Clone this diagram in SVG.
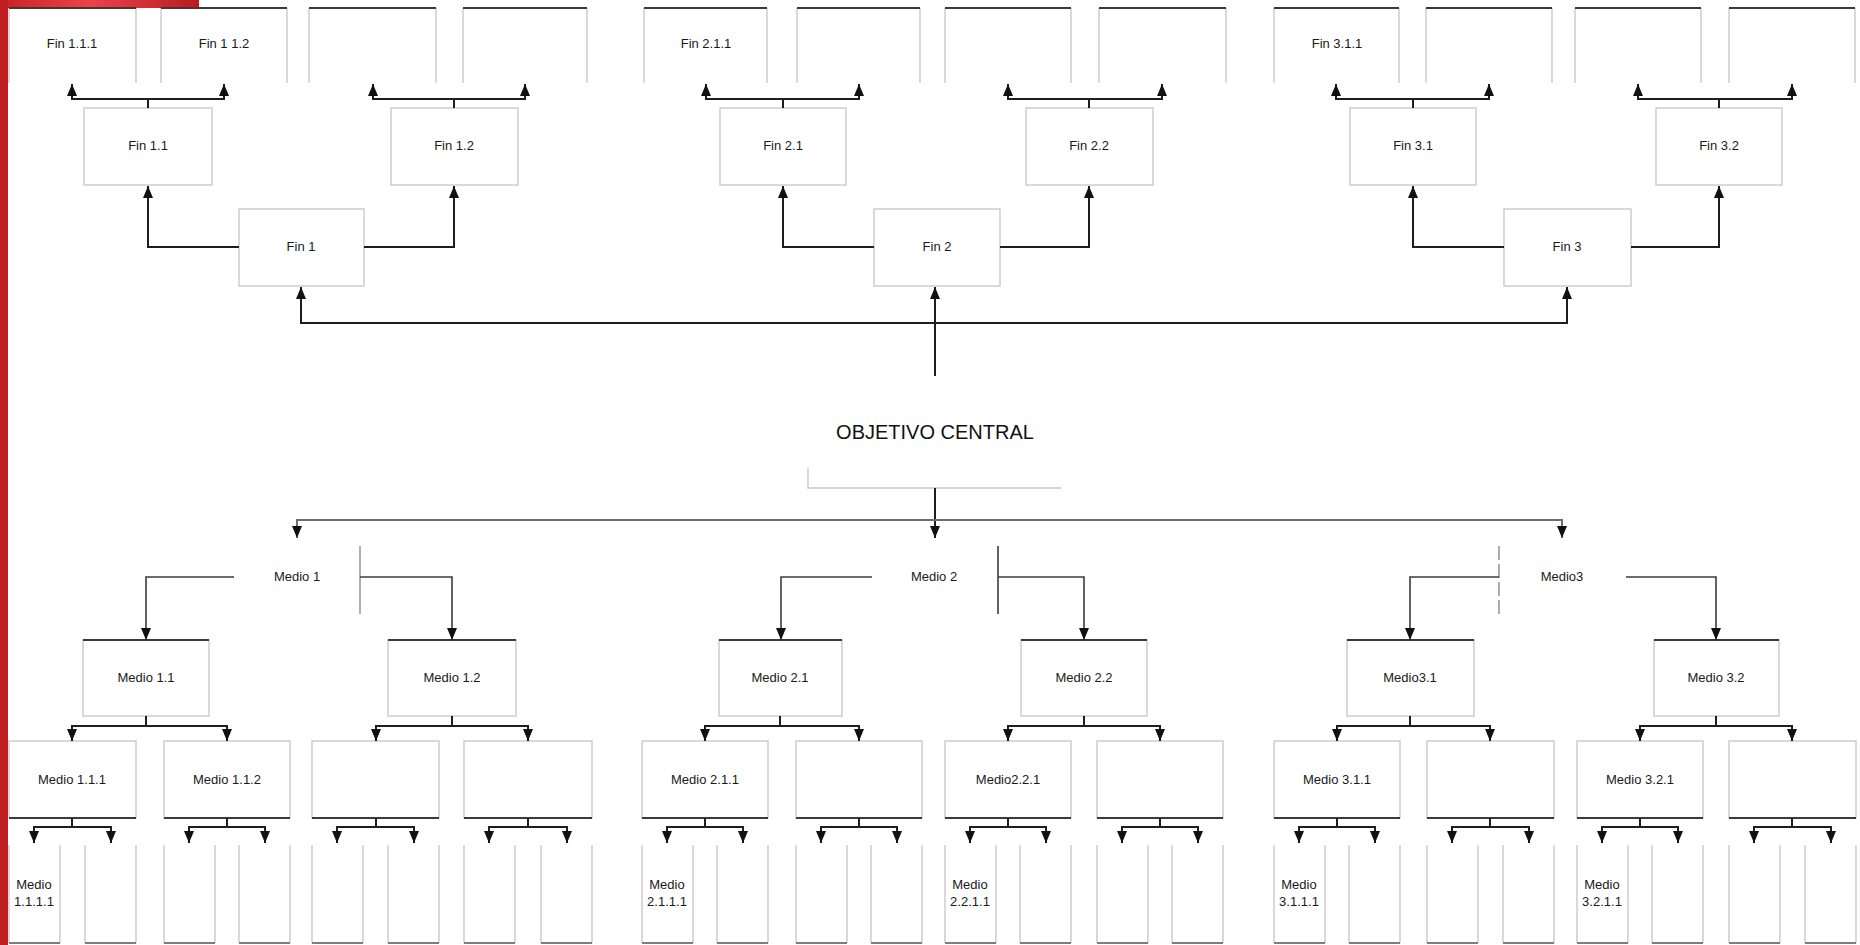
<svg xmlns="http://www.w3.org/2000/svg" width="1860" height="945" viewBox="0 0 1860 945">
<defs>
<style>
.box{fill:none;stroke:#c6c6c6;stroke-width:1.3}
.dk{fill:none;stroke:#3a3a3a;stroke-width:2}
.t{font-family:"Liberation Sans",Arial,sans-serif;font-size:13px;text-anchor:middle;fill:#1a1a1a}
.big{font-family:"Liberation Sans",Arial,sans-serif;font-size:20px;text-anchor:middle;fill:#111}
.c{fill:none;stroke:#1e1e1e;stroke-width:2}
.cg{fill:none;stroke:#6e6e6e;stroke-width:2}
.cl{fill:none;stroke:#3c3c3c;stroke-width:1.6}
.ed{fill:none;stroke:#8a8a8a;stroke-width:1.4}
.lb{fill:none;stroke:#555;stroke-width:1.4}
</style>
<marker id="ah" viewBox="0 0 12 10" refX="12" refY="5" markerWidth="13" markerHeight="10" markerUnits="userSpaceOnUse" orient="auto">
<path d="M0,0 L12,5 L0,10 z" fill="#111"/>
</marker>
<linearGradient id="rg" x1="0" y1="0" x2="1" y2="0">
<stop offset="0" stop-color="#c62226"/>
<stop offset="0.45" stop-color="#e8454b"/>
<stop offset="1" stop-color="#b71c20"/>
</linearGradient>
</defs>
<rect x="0" y="0" width="1860" height="945" fill="#fff"/>
<rect x="0" y="0" width="199" height="8" fill="url(#rg)"/>
<rect x="0" y="0" width="8" height="945" fill="#bf2024"/>

<!-- top row -->
<g id="fin111"><path class="box" d="M9,83 V8 M136,8 V83"/><path class="dk" d="M9,8 H136"/><text class="t" x="72" y="48">Fin 1.1.1</text></g>
<g id="fin112"><path class="box" d="M161,83 V8 M287,8 V83"/><path class="dk" d="M161,8 H287"/><text class="t" x="224" y="48">Fin 1 1.2</text></g>
<g id="fin121"><path class="box" d="M309,83 V8 M436,8 V83"/><path class="dk" d="M309,8 H436"/></g>
<g id="fin122"><path class="box" d="M463,83 V8 M587,8 V83"/><path class="dk" d="M463,8 H587"/></g>
<g id="fin211"><path class="box" d="M644,83 V8 M767,8 V83"/><path class="dk" d="M644,8 H767"/><text class="t" x="706" y="48">Fin 2.1.1</text></g>
<g id="fin212"><path class="box" d="M797,83 V8 M920,8 V83"/><path class="dk" d="M797,8 H920"/></g>
<g id="fin221"><path class="box" d="M945,83 V8 M1071,8 V83"/><path class="dk" d="M945,8 H1071"/></g>
<g id="fin222"><path class="box" d="M1099,83 V8 M1226,8 V83"/><path class="dk" d="M1099,8 H1226"/></g>
<g id="fin311"><path class="box" d="M1274,83 V8 M1399,8 V83"/><path class="dk" d="M1274,8 H1399"/><text class="t" x="1337" y="48">Fin 3.1.1</text></g>
<g id="fin312"><path class="box" d="M1426,83 V8 M1552,8 V83"/><path class="dk" d="M1426,8 H1552"/></g>
<g id="fin321"><path class="box" d="M1575,83 V8 M1701,8 V83"/><path class="dk" d="M1575,8 H1701"/></g>
<g id="fin322"><path class="box" d="M1729,83 V8 M1855,8 V83"/><path class="dk" d="M1729,8 H1855"/></g>

<!-- Fin level 2 -->
<g id="fin11"><rect class="box" x="84" y="108" width="128" height="77"/><text class="t" x="148" y="150">Fin 1.1</text></g>
<g id="fin12"><rect class="box" x="391" y="108" width="127" height="77"/><text class="t" x="454" y="150">Fin 1.2</text></g>
<g id="fin21"><rect class="box" x="720" y="108" width="126" height="77"/><text class="t" x="783" y="150">Fin 2.1</text></g>
<g id="fin22"><rect class="box" x="1026" y="108" width="127" height="77"/><text class="t" x="1089" y="150">Fin 2.2</text></g>
<g id="fin31"><rect class="box" x="1350" y="108" width="126" height="77"/><text class="t" x="1413" y="150">Fin 3.1</text></g>
<g id="fin32"><rect class="box" x="1656" y="108" width="126" height="77"/><text class="t" x="1719" y="150">Fin 3.2</text></g>

<!-- Fin level 1 -->
<g id="fin1"><rect class="box" x="239" y="209" width="125" height="77"/><text class="t" x="301" y="251">Fin 1</text></g>
<g id="fin2"><rect class="box" x="874" y="209" width="126" height="77"/><text class="t" x="937" y="251">Fin 2</text></g>
<g id="fin3"><rect class="box" x="1504" y="209" width="127" height="77"/><text class="t" x="1567" y="251">Fin 3</text></g>

<!-- objective -->
<g id="objetivo"><path class="box" d="M808,468 V488 H1061"/><text class="big" x="935" y="439">OBJETIVO CENTRAL</text></g>

<!-- Medio level 1 -->
<g id="medio1"><path class="ed" d="M360,546 V614"/><text class="t" x="297" y="581">Medio 1</text></g>
<g id="medio2"><path class="cl" d="M998,546 V614"/><text class="t" x="934" y="581">Medio 2</text></g>
<g id="medio3"><path class="ed" d="M1499,546 V614" stroke-dasharray="14,4"/><text class="t" x="1562" y="581">Medio3</text></g>

<!-- Medio level 2 -->
<g id="medio11"><rect class="box" x="83" y="640" width="126" height="76"/><path class="dk" d="M83,640 H209"/><text class="t" x="146" y="682">Medio 1.1</text></g>
<g id="medio12"><rect class="box" x="388" y="640" width="128" height="76"/><path class="dk" d="M388,640 H516"/><text class="t" x="452" y="682">Medio 1.2</text></g>
<g id="medio21"><rect class="box" x="719" y="640" width="123" height="76"/><path class="dk" d="M719,640 H842"/><text class="t" x="780" y="682">Medio 2.1</text></g>
<g id="medio22"><rect class="box" x="1021" y="640" width="126" height="76"/><path class="dk" d="M1021,640 H1147"/><text class="t" x="1084" y="682">Medio 2.2</text></g>
<g id="medio31"><rect class="box" x="1347" y="640" width="127" height="76"/><path class="dk" d="M1347,640 H1474"/><text class="t" x="1410" y="682">Medio3.1</text></g>
<g id="medio32"><rect class="box" x="1654" y="640" width="125" height="76"/><path class="dk" d="M1654,640 H1779"/><text class="t" x="1716" y="682">Medio 3.2</text></g>

<!-- Medio level 3 -->
<g id="medio111"><rect class="box" x="9" y="741" width="127" height="77"/><path class="dk" d="M9,818 H136"/><text class="t" x="72" y="784">Medio 1.1.1</text></g>
<g id="medio112"><rect class="box" x="164" y="741" width="126" height="77"/><path class="dk" d="M164,818 H290"/><text class="t" x="227" y="784">Medio 1.1.2</text></g>
<g id="medio121"><rect class="box" x="312" y="741" width="127" height="77"/><path class="dk" d="M312,818 H439"/></g>
<g id="medio122"><rect class="box" x="464" y="741" width="128" height="77"/><path class="dk" d="M464,818 H592"/></g>
<g id="medio211"><rect class="box" x="642" y="741" width="126" height="77"/><path class="dk" d="M642,818 H768"/><text class="t" x="705" y="784">Medio 2.1.1</text></g>
<g id="medio212"><rect class="box" x="796" y="741" width="126" height="77"/><path class="dk" d="M796,818 H922"/></g>
<g id="medio221"><rect class="box" x="945" y="741" width="126" height="77"/><path class="dk" d="M945,818 H1071"/><text class="t" x="1008" y="784">Medio2.2.1</text></g>
<g id="medio222"><rect class="box" x="1097" y="741" width="126" height="77"/><path class="dk" d="M1097,818 H1223"/></g>
<g id="medio311"><rect class="box" x="1274" y="741" width="126" height="77"/><path class="dk" d="M1274,818 H1400"/><text class="t" x="1337" y="784">Medio 3.1.1</text></g>
<g id="medio312"><rect class="box" x="1427" y="741" width="127" height="77"/><path class="dk" d="M1427,818 H1554"/></g>
<g id="medio321"><rect class="box" x="1577" y="741" width="126" height="77"/><path class="dk" d="M1577,818 H1703"/><text class="t" x="1640" y="784">Medio 3.2.1</text></g>
<g id="medio322"><rect class="box" x="1729" y="741" width="127" height="77"/><path class="dk" d="M1729,818 H1856"/></g>

<!-- Medio level 4 (open top) -->
<g id="m4a1"><path class="box" d="M9,845 V943 M60,845 V943"/><path class="lb" d="M9,943 H60"/><text class="t" x="34" y="889">Medio</text><text class="t" x="34" y="906">1.1.1.1</text></g>
<g id="m4a2"><path class="box" d="M85,845 V943 M136,845 V943"/><path class="lb" d="M85,943 H136"/></g>
<g id="m4b1"><path class="box" d="M164,845 V943 M215,845 V943"/><path class="lb" d="M164,943 H215"/></g>
<g id="m4b2"><path class="box" d="M239,845 V943 M290,845 V943"/><path class="lb" d="M239,943 H290"/></g>
<g id="m4c1"><path class="box" d="M312,845 V943 M363,845 V943"/><path class="lb" d="M312,943 H363"/></g>
<g id="m4c2"><path class="box" d="M388,845 V943 M439,845 V943"/><path class="lb" d="M388,943 H439"/></g>
<g id="m4d1"><path class="box" d="M464,845 V943 M515,845 V943"/><path class="lb" d="M464,943 H515"/></g>
<g id="m4d2"><path class="box" d="M541,845 V943 M592,845 V943"/><path class="lb" d="M541,943 H592"/></g>
<g id="m4e1"><path class="box" d="M642,845 V943 M693,845 V943"/><path class="lb" d="M642,943 H693"/><text class="t" x="667" y="889">Medio</text><text class="t" x="667" y="906">2.1.1.1</text></g>
<g id="m4e2"><path class="box" d="M717,845 V943 M768,845 V943"/><path class="lb" d="M717,943 H768"/></g>
<g id="m4f1"><path class="box" d="M796,845 V943 M847,845 V943"/><path class="lb" d="M796,943 H847"/></g>
<g id="m4f2"><path class="box" d="M871,845 V943 M922,845 V943"/><path class="lb" d="M871,943 H922"/></g>
<g id="m4g1"><path class="box" d="M945,845 V943 M996,845 V943"/><path class="lb" d="M945,943 H996"/><text class="t" x="970" y="889">Medio</text><text class="t" x="970" y="906">2.2.1.1</text></g>
<g id="m4g2"><path class="box" d="M1020,845 V943 M1071,845 V943"/><path class="lb" d="M1020,943 H1071"/></g>
<g id="m4h1"><path class="box" d="M1097,845 V943 M1148,845 V943"/><path class="lb" d="M1097,943 H1148"/></g>
<g id="m4h2"><path class="box" d="M1172,845 V943 M1223,845 V943"/><path class="lb" d="M1172,943 H1223"/></g>
<g id="m4i1"><path class="box" d="M1274,845 V943 M1325,845 V943"/><path class="lb" d="M1274,943 H1325"/><text class="t" x="1299" y="889">Medio</text><text class="t" x="1299" y="906">3.1.1.1</text></g>
<g id="m4i2"><path class="box" d="M1349,845 V943 M1400,845 V943"/><path class="lb" d="M1349,943 H1400"/></g>
<g id="m4j1"><path class="box" d="M1427,845 V943 M1478,845 V943"/><path class="lb" d="M1427,943 H1478"/></g>
<g id="m4j2"><path class="box" d="M1503,845 V943 M1554,845 V943"/><path class="lb" d="M1503,943 H1554"/></g>
<g id="m4k1"><path class="box" d="M1577,845 V943 M1628,845 V943"/><path class="lb" d="M1577,943 H1628"/><text class="t" x="1602" y="889">Medio</text><text class="t" x="1602" y="906">3.2.1.1</text></g>
<g id="m4k2"><path class="box" d="M1652,845 V943 M1703,845 V943"/><path class="lb" d="M1652,943 H1703"/></g>
<g id="m4l1"><path class="box" d="M1729,845 V943 M1780,845 V943"/><path class="lb" d="M1729,943 H1780"/></g>
<g id="m4l2"><path class="box" d="M1805,845 V943 M1856,845 V943"/><path class="lb" d="M1805,943 H1856"/></g>

<g id="connectors">
<g class="c" marker-end="url(#ah)">
<path d="M239,247 H148 V186"/><path d="M364,247 H454 V186"/>
<path d="M874,247 H783 V186"/><path d="M1000,247 H1089 V186"/>
<path d="M1504,247 H1413 V186"/><path d="M1631,247 H1719 V186"/>
<path d="M148,108 V99 H72 V84"/><path d="M148,99 H224 V84"/>
<path d="M454,108 V99 H373 V84"/><path d="M454,99 H525 V84"/>
<path d="M783,108 V99 H706 V84"/><path d="M783,99 H859 V84"/>
<path d="M1089,108 V99 H1008 V84"/><path d="M1089,99 H1162 V84"/>
<path d="M1413,108 V99 H1336 V84"/><path d="M1413,99 H1489 V84"/>
<path d="M1719,108 V99 H1638 V84"/><path d="M1719,99 H1792 V84"/>
<path d="M935,376 V287"/><path d="M935,323 H301 V287"/><path d="M935,323 H1567 V287"/>
<path d="M935,488 V538"/>
</g>
<g class="cg" marker-end="url(#ah)">
<path d="M935,520 H297 V538"/><path d="M935,520 H1562 V538"/>
</g>
<g class="cl" marker-end="url(#ah)">
<path d="M234,577 H146 V640"/><path d="M360,577 H452 V640"/>
<path d="M872,577 H781 V640"/><path d="M998,577 H1084 V640"/>
<path d="M1499,577 H1410 V640"/><path d="M1626,577 H1716 V640"/>
</g>
<g class="c" marker-end="url(#ah)">
<path d="M146,716 V726 H72 V741"/><path d="M146,726 H227 V741"/>
<path d="M452,716 V726 H376 V741"/><path d="M452,726 H528 V741"/>
<path d="M780,716 V726 H705 V741"/><path d="M780,726 H859 V741"/>
<path d="M1084,716 V726 H1008 V741"/><path d="M1084,726 H1160 V741"/>
<path d="M1410,716 V726 H1337 V741"/><path d="M1410,726 H1490 V741"/>
<path d="M1716,716 V726 H1640 V741"/><path d="M1716,726 H1792 V741"/>
<path d="M72,818 V827 H34 V843"/><path d="M72,827 H111 V843"/>
<path d="M227,818 V827 H189 V843"/><path d="M227,827 H265 V843"/>
<path d="M376,818 V827 H337 V843"/><path d="M376,827 H414 V843"/>
<path d="M528,818 V827 H489 V843"/><path d="M528,827 H567 V843"/>
<path d="M705,818 V827 H667 V843"/><path d="M705,827 H743 V843"/>
<path d="M859,818 V827 H821 V843"/><path d="M859,827 H897 V843"/>
<path d="M1008,818 V827 H970 V843"/><path d="M1008,827 H1046 V843"/>
<path d="M1160,818 V827 H1122 V843"/><path d="M1160,827 H1198 V843"/>
<path d="M1337,818 V827 H1299 V843"/><path d="M1337,827 H1375 V843"/>
<path d="M1490,818 V827 H1452 V843"/><path d="M1490,827 H1529 V843"/>
<path d="M1640,818 V827 H1602 V843"/><path d="M1640,827 H1678 V843"/>
<path d="M1792,818 V827 H1754 V843"/><path d="M1792,827 H1831 V843"/>
</g>
</g>
</svg>
